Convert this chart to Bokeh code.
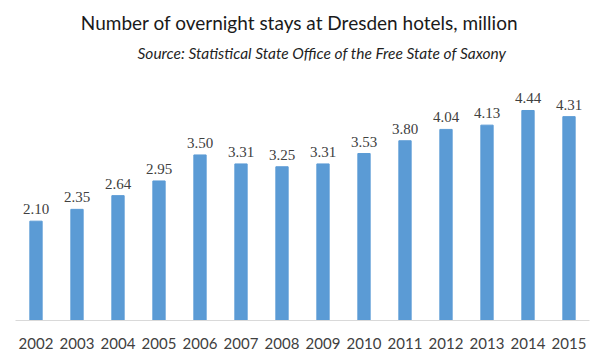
from bokeh.plotting import figure
from bokeh.models import Range1d, Label, ColumnDataSource, LabelSet
from bokeh.embed import file_html
from bokeh.resources import INLINE

years = ["2002", "2003", "2004", "2005", "2006", "2007", "2008", "2009",
         "2010", "2011", "2012", "2013", "2014", "2015"]
stays = [2.10, 2.35, 2.64, 2.95, 3.50, 3.31, 3.25, 3.31, 3.53, 3.80, 4.04, 4.13, 4.44, 4.31]
labels = ["%.2f" % v for v in stays]

title_text = "Number of overnight stays  at Dresden hotels, million"
subtitle_text = "Source: Statistical State Office of the Free State of Saxony"

W, H = 600, 355
BOTTOM = 35
FRAME_H = H - BOTTOM
PX_PER_UNIT = 47.3
YMAX = FRAME_H / PX_PER_UNIT

src = ColumnDataSource(dict(x=years, top=stays, lab=labels))

p = figure(x_range=years, width=W, height=H, output_backend="svg",
           toolbar_location=None, min_border_left=15, min_border_right=11,
           min_border_top=0, min_border_bottom=BOTTOM)
p.y_range = Range1d(0, YMAX)
p.vbar(x="x", top="top", width=0.3, source=src, fill_color="#5B9BD5",
       line_color="#5B9BD5")

p.add_layout(LabelSet(x="x", y="top", text="lab", source=src, text_align="center",
                      text_baseline="bottom", y_offset=7, text_font="Lato",
                      text_font_size="15px", text_color="#404040"))

p.yaxis.visible = False
p.xgrid.grid_line_color = None
p.ygrid.grid_line_color = None
p.outline_line_color = None
p.xaxis.axis_line_color = "#D9D9D9"
p.xaxis.axis_line_width = 1
p.xaxis.major_tick_line_color = None
p.xaxis.minor_tick_line_color = None
p.xaxis.major_label_standoff = 11
p.xaxis.major_label_text_font = "Lato"
p.xaxis.major_label_text_font_size = "15px"
p.xaxis.major_label_text_color = "#404040"

def ypix(py):
    return (FRAME_H - py) / PX_PER_UNIT

p.add_layout(Label(x=6.5, y=ypix(22), text=title_text, text_align="center",
                   text_baseline="middle", text_font="Lato", text_font_size="19px",
                   text_color="#1a1a1a", x_offset=20))
p.add_layout(Label(x=6.5, y=ypix(52), text=subtitle_text, text_align="center",
                   text_baseline="middle", text_font="Lato", text_font_size="15.5px",
                   text_font_style="italic", text_color="#1f1f1f", x_offset=40))

open("out.html", "w").write(file_html(p, INLINE))
